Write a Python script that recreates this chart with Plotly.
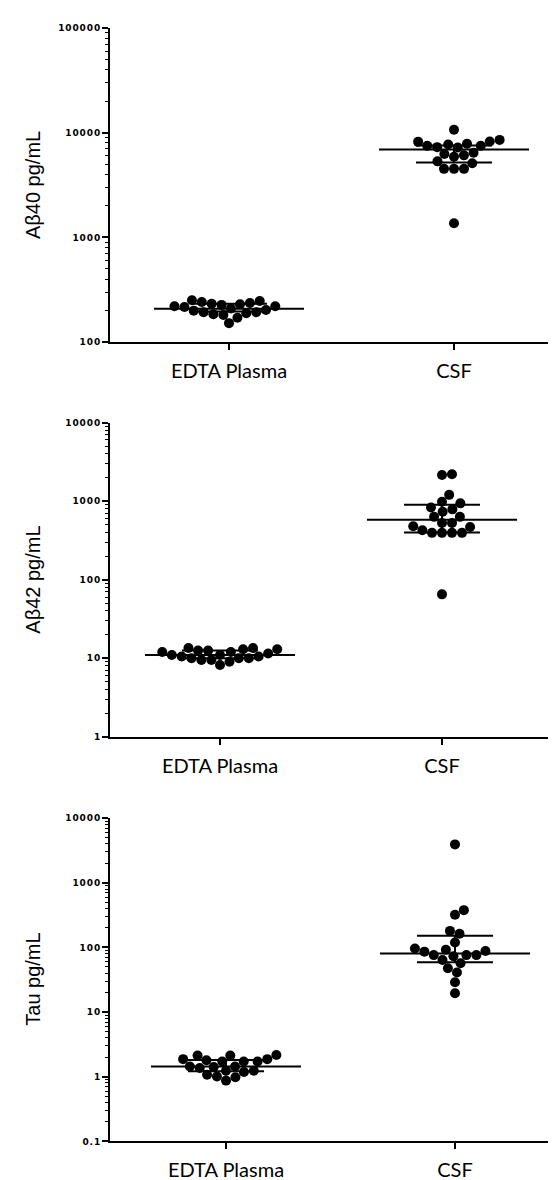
import numpy as np
import plotly.graph_objects as go

categories = ["EDTA Plasma", "CSF"]

ab40_plasma = [237, 230, 220, 217, 247, 251, 220, 227, 233, 242,
               193, 189, 182, 203, 171, 185, 193, 152, 200, 210]
ab40_csf = [10670, 8530, 8170, 7480, 7210, 7710, 7480, 7820, 8220, 7270,
            6250, 5890, 6070, 6430, 5100, 4510, 4510, 4510, 5320, 1365]
ab40_plasma_stats = [209, 196, 233]   # median, q1, q3
ab40_csf_stats = [6910, 5180, 7550]

ab42_plasma = [13.5, 13.0, 13.0, 12.5, 12.5, 12.0, 12.0, 11.5, 11.0, 11.0,
               10.5, 10.5, 10.0, 10.0, 10.0, 9.5, 9.5, 9.0, 13.5, 8.2]
ab42_csf = [2200, 2150, 1200, 980, 935, 830, 785, 732, 630, 630,
            527, 527, 468, 479, 425, 394, 394, 394, 394, 65]
ab42_plasma_stats = [11.0, 10.0, 12.5]
ab42_csf_stats = [580, 398, 897]

tau_plasma = [2.17, 2.12, 2.12, 1.87, 1.80, 1.72, 1.72, 1.72, 1.87, 1.24,
              1.18, 1.44, 1.41, 1.36, 1.44, 1.24, 1.07, 1.01, 0.98, 0.87]
tau_csf = [3925, 320, 377, 163, 180, 119, 92, 86, 96, 88,
           76, 73, 76, 76, 64, 57, 47.5, 41, 29, 19.5]
tau_plasma_stats = [1.44, 1.21, 1.82]
tau_csf_stats = [80.7, 58.7, 151]

y_titles = ["A\u03b240 pg/mL", "A\u03b242 pg/mL", "Tau pg/mL"]
y_ticklabels = [
    ["100", "1000", "10000", "100000"],
    ["1", "10", "100", "1000", "10000"],
    ["0.1", "1", "10", "100", "1000", "10000"],
]

groups = [
    (ab40_plasma, ab40_csf, ab40_plasma_stats, ab40_csf_stats),
    (ab42_plasma, ab42_csf, ab42_plasma_stats, ab42_csf_stats),
    (tau_plasma, tau_csf, tau_plasma_stats, tau_csf_stats),
]

W, H = 556, 1180
# pixel layout of each panel
panels = [
    dict(top=15, bottom=332, left=102, right=556, p0=221, p1=446, yr=[2, 5]),
    dict(top=413, bottom=730, left=102, right=545, p0=212, p1=434, yr=[0, 4]),
    dict(top=812, bottom=1138, left=102, right=556, p0=218, p1=447, yr=[-1, 4]),
]
DOT = 10.0
MED_HALF = 75
IQR_HALF = 38


def swarm(vals, px_per_dec, d):
    ys = np.log10(np.asarray(vals, float)) * px_per_dec
    order = np.argsort(ys)
    placed = []
    xs = np.zeros(len(vals))
    for i in order:
        y = ys[i]
        cands = [0.0]
        for xj, yj in placed:
            dy = abs(y - yj)
            if dy < d:
                dx = np.sqrt(d * d - dy * dy)
                cands += [xj + dx, xj - dx]
        cands.sort(key=lambda c: (round(abs(c), 6), -c))
        for c in cands:
            if all((c - xj) ** 2 + (y - yj) ** 2 >= d * d - 1e-6 for xj, yj in placed):
                xs[i] = c
                break
        placed.append((xs[i], y))
    return xs


fig = go.Figure()
for k, (pl, cs, pls, css) in enumerate(groups):
    P = panels[k]
    sfx = "" if k == 0 else str(k + 1)
    unit = P["p1"] - P["p0"]
    ppd = (P["bottom"] - P["top"]) / (P["yr"][1] - P["yr"][0])
    for g, (vals, st) in enumerate([(pl, pls), (cs, css)]):
        xs = g + swarm(vals, ppd, DOT) / unit
        fig.add_trace(go.Scatter(
            x=xs, y=vals, mode="markers",
            marker=dict(color="black", size=DOT, line=dict(width=0)),
            xaxis="x" + sfx, yaxis="y" + sfx, hoverinfo="skip"))
        med, q1, q3 = st
        mh, ih = MED_HALF / unit, IQR_HALF / unit
        lx = [g - mh, g + mh, None, g - ih, g + ih, None, g - ih, g + ih, None, g, g]
        ly = [med, med, None, q1, q1, None, q3, q3, None, q1, q3]
        fig.add_trace(go.Scatter(
            x=lx, y=ly, mode="lines", line=dict(color="black", width=2),
            xaxis="x" + sfx, yaxis="y" + sfx, hoverinfo="skip"))

    xr = [(P["left"] - P["p0"]) / unit, (P["right"] - P["p0"]) / unit]
    tv = [10.0 ** e for e in range(P["yr"][0], P["yr"][1] + 1)]
    tt = ["\u200a".join(s) for s in y_ticklabels[k]]
    fig.layout["xaxis" + sfx] = dict(
        domain=[P["left"] / W, P["right"] / W], range=xr, anchor="y" + sfx,
        showline=True, linewidth=2, linecolor="black", showgrid=False, zeroline=False,
        ticks="outside", ticklen=6, tickwidth=2, tickcolor="black",
        tickvals=[0, 1], ticktext=categories, ticklabelstandoff=4,
        tickfont=dict(family="Lato", size=20, color="black"))
    fig.layout["yaxis" + sfx] = dict(
        domain=[1 - P["bottom"] / H, 1 - P["top"] / H], type="log", range=P["yr"],
        anchor="x" + sfx, showline=True, linewidth=2, linecolor="black",
        showgrid=False, zeroline=False,
        ticks="outside", ticklen=6, tickwidth=2, tickcolor="black",
        tickvals=tv, ticktext=tt,
        tickfont=dict(family="DejaVu Sans", size=9, color="black", weight="bold"),
        minor=dict(ticks="outside", ticklen=3, tickwidth=1, tickcolor="black",
                   dtick="D1", showgrid=False))
    fig.add_annotation(
        x=25 / W, y=1 - (P["top"] + P["bottom"]) / 2 / H, xref="paper", yref="paper",
        text=y_titles[k], textangle=-90, showarrow=False,
        xanchor="center", yanchor="middle",
        font=dict(family="Liberation Sans", size=20, color="black"))

fig.update_layout(
    width=W, height=H, margin=dict(l=0, r=0, t=0, b=0),
    paper_bgcolor="white", plot_bgcolor="white", showlegend=False)

fig.write_html("out.html")
